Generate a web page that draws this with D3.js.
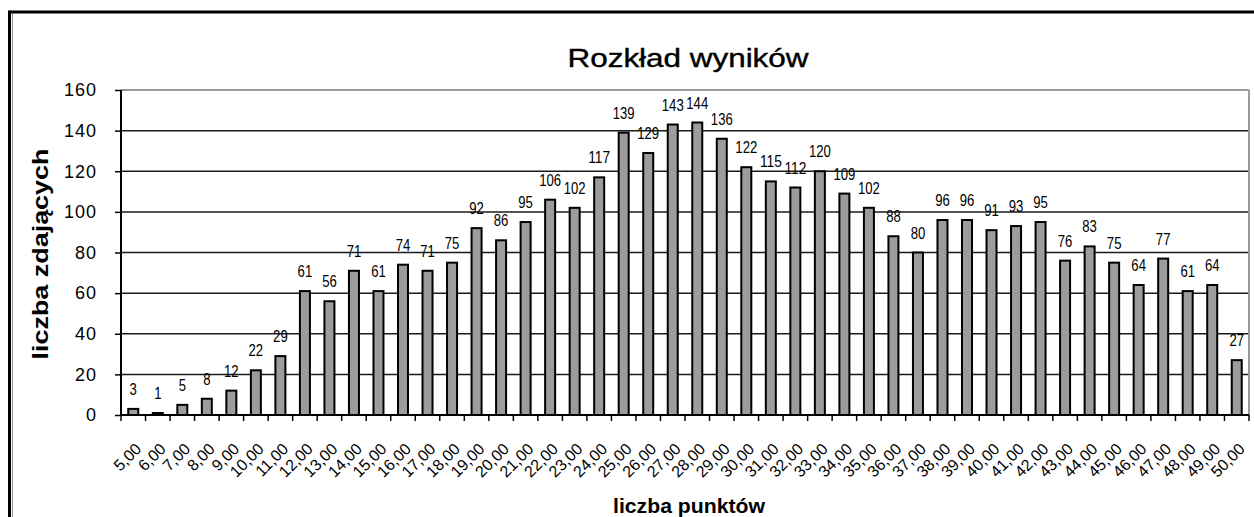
<!DOCTYPE html>
<html>
<head>
<meta charset="utf-8">
<script src="https://cdn.jsdelivr.net/npm/d3@7"></script>
<style>
  html, body { margin: 0; padding: 0; background: #fff; }
  svg { display: block; font-family: "Liberation Sans", Arial, sans-serif; }
</style>
</head>
<body>
<svg id="chart" width="1254" height="517"></svg>
<script>
const categories = ["5,00","6,00","7,00","8,00","9,00","10,00","11,00","12,00","13,00","14,00","15,00","16,00","17,00","18,00","19,00","20,00","21,00","22,00","23,00","24,00","25,00","26,00","27,00","28,00","29,00","30,00","31,00","32,00","33,00","34,00","35,00","36,00","37,00","38,00","39,00","40,00","41,00","42,00","43,00","44,00","45,00","46,00","47,00","48,00","49,00","50,00"];
const values = [3,1,5,8,12,22,29,61,56,71,61,74,71,75,92,86,95,106,102,117,139,129,143,144,136,122,115,112,120,109,102,88,80,96,96,91,93,95,76,83,75,64,77,61,64,27];
const yTicks = [0,20,40,60,80,100,120,140,160];
const title = "Rozkład wyników";
const xTitle = "liczba punktów";
const yTitle = "liczba zdających";

(function () {
const svg = d3.select("#chart");
const pL = 121, pR = 1249, pT = 90, pB = 415;

const x = d3.scaleBand().domain(categories).range([pL, pR]).padding(0);
const y = d3.scaleLinear().domain([0, 160]).range([pB, pT]);

// outer frame
svg.append("line").attr("x1", 9.5).attr("x2", 1254).attr("y1", 12).attr("y2", 12).attr("stroke", "#000").attr("stroke-width", 3);
svg.append("line").attr("x1", 9.5).attr("x2", 9.5).attr("y1", 10.5).attr("y2", 517).attr("stroke", "#000").attr("stroke-width", 3);
svg.append("line").attr("x1", 12.5).attr("x2", 12.5).attr("y1", 14).attr("y2", 517).attr("stroke", "#888").attr("stroke-width", 1);

// title
svg.append("text").attr("x", 688).attr("y", 67).attr("text-anchor", "middle")
  .attr("font-size", 26).attr("font-weight", "normal").attr("textLength", 241).attr("lengthAdjust", "spacingAndGlyphs")
  .attr("stroke", "#000").attr("stroke-width", 0.4)
  .text(title);

// gridlines
svg.append("g").selectAll("line").data(yTicks.filter(d => d > 0 && d < 160)).join("line")
  .attr("x1", pL).attr("x2", pR).attr("y1", d => y(d)).attr("y2", d => y(d))
  .attr("stroke", "#1a1a1a").attr("stroke-width", 1.5);

// plot area border (top & right) gray
svg.append("line").attr("x1", pL).attr("x2", pR).attr("y1", y(160)).attr("y2", y(160)).attr("stroke", "#999").attr("stroke-width", 2);
svg.append("line").attr("x1", pR).attr("x2", pR).attr("y1", y(160)).attr("y2", pB).attr("stroke", "#999").attr("stroke-width", 2);

// bars
const barW = 10;
svg.append("g").selectAll("rect").data(values).join("rect")
  .attr("x", (d, i) => x(categories[i]) + x.bandwidth() / 2 - barW / 2)
  .attr("y", d => y(d))
  .attr("width", barW)
  .attr("height", d => pB - y(d))
  .attr("fill", "#9c9c9c").attr("stroke", "#000").attr("stroke-width", 2);

// data labels
svg.append("g").selectAll("text").data(values).join("text")
  .attr("x", (d, i) => x(categories[i]) + x.bandwidth() / 2)
  .attr("y", d => y(d) - 14)
  .attr("text-anchor", "middle").attr("font-size", 16)
  .attr("textLength", d => String(d).length * 7.3).attr("lengthAdjust", "spacingAndGlyphs")
  .text(d => d);

// y axis
const yAxis = svg.append("g").attr("transform", `translate(${pL},0)`)
  .call(d3.axisLeft(y).tickValues(yTicks).tickSize(6).tickPadding(18).tickFormat(d3.format("d")));
yAxis.select(".domain").attr("stroke", "#000").attr("stroke-width", 2).attr("d", `M0,${pT}V${pB}`);
yAxis.selectAll(".tick line").attr("stroke", "#000").attr("stroke-width", 1.5);
yAxis.selectAll(".tick text").attr("font-size", 18).attr("fill", "#000").attr("font-family", "Liberation Sans, Arial, sans-serif")
  .attr("letter-spacing", 1);

// x axis
const xAxis = svg.append("g").attr("transform", `translate(0,${pB})`)
  .call(d3.axisBottom(x).tickSize(0).tickFormat(""));
xAxis.select(".domain").attr("stroke", "#000").attr("stroke-width", 2).attr("d", `M${pL},0H${pR}`);
// boundary ticks
const bounds = categories.map(c => x(c)).concat([pR]);
svg.append("g").selectAll("line").data(bounds).join("line")
  .attr("x1", d => d).attr("x2", d => d).attr("y1", pB).attr("y2", pB + 6)
  .attr("stroke", "#000").attr("stroke-width", 1.5);
// rotated labels
svg.append("g").selectAll("text").data(categories).join("text")
  .attr("transform", c => `translate(${x(c) + x.bandwidth() / 2 + 9},450) rotate(-45)`)
  .attr("text-anchor", "end").attr("font-size", 16).attr("fill", "#000")
  .text(c => c);

// axis titles
svg.append("text").attr("transform", "translate(48,254) rotate(-90)").attr("text-anchor", "middle")
  .attr("font-size", 22).attr("font-weight", "bold").attr("textLength", 211).attr("lengthAdjust", "spacingAndGlyphs")
  .text(yTitle);
svg.append("text").attr("x", 689).attr("y", 513).attr("text-anchor", "middle")
  .attr("font-size", 20).attr("font-weight", "bold").attr("textLength", 152).attr("lengthAdjust", "spacingAndGlyphs")
  .text(xTitle);
})();
</script>
</body>
</html>
